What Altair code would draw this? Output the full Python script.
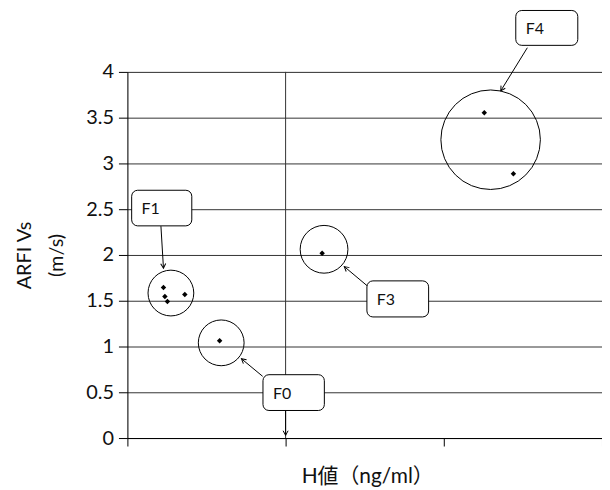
import math
import altair as alt
import pandas as pd

# ---- data ----
pt_x = [0.228, 0.237, 0.253, 0.363, 0.583, 1.231, 2.256, 2.440]
pt_y = [1.645, 1.547, 1.492, 1.568, 1.062, 2.018, 3.554, 2.888]

grp_names = ["F1", "F0", "F3", "F4"]
grp_cx = [0.275, 0.593, 1.243, 2.296]
grp_cy = [1.584, 1.040, 2.062, 3.259]
grp_diam = [46, 46, 48, 100]  # ring diameter in px

box_x1 = [0.027, 0.857, 1.514, 2.455]
box_x2 = [0.407, 1.245, 1.904, 2.847]
box_y1 = [2.707, 0.692, 1.717, 4.671]
box_y2 = [2.318, 0.301, 1.323, 4.290]

arr_x1 = [0.212, 0.855, 1.000, 1.516, 2.528]
arr_y1 = [2.315, 0.674, 0.301, 1.663, 4.264]
arr_x2 = [0.228, 0.721, 1.000, 1.371, 2.360]
arr_y2 = [1.855, 0.866, 0.030, 1.873, 3.793]

threshold_x = [1.0]

y_ticks = [0, 0.5, 1, 1.5, 2, 2.5, 3, 3.5, 4]
x_ticks = [0, 1, 2, 3]

W, H = 477, 368
XMAX, YMAX = 3, 4
FONT = "Lato, 'Noto Sans CJK JP', sans-serif"

pts = pd.DataFrame({"x": pt_x, "y": pt_y})
grp = pd.DataFrame({"name": grp_names, "cx": grp_cx, "cy": grp_cy,
                    "size": [d * d for d in grp_diam]})
boxes = pd.DataFrame({"name": grp_names, "x1": box_x1, "x2": box_x2,
                      "y1": box_y1, "y2": box_y2,
                      "ym": [(a + b) / 2 for a, b in zip(box_y1, box_y2)]})
angles = []
for a, b, c, d in zip(arr_x1, arr_y1, arr_x2, arr_y2):
    dx = (c - a) * W / XMAX
    dy = -(d - b) * H / YMAX
    angles.append(math.degrees(math.atan2(dx, -dy)) % 360)
arrows = pd.DataFrame({"x1": arr_x1, "y1": arr_y1, "x2": arr_x2, "y2": arr_y2,
                       "ang": angles})
thr = pd.DataFrame({"x": threshold_x})

xs = alt.Scale(domain=[0, XMAX], nice=False, zero=False)
ys = alt.Scale(domain=[0, YMAX], nice=False, zero=False)

x_axis = alt.Axis(values=x_ticks, labels=False, grid=False, tickSize=8,
                  domainColor="black", tickColor="black",
                  title="H値（ng/ml）", titleFont=FONT, titleFontSize=21,
                  titleFontWeight="normal", titleColor="#111", titlePadding=19,
                  titleX=241, titleAlign="center")
y_axis = alt.Axis(values=y_ticks, format="~g", grid=True, gridColor="#333",
                  gridWidth=1, tickSize=9, tickColor="black", domainColor="black",
                  labelFont=FONT, labelFontSize=20, labelColor="#111", labelPadding=5,
                  title=["ARFI Vs", "(m/s)"], titleFont=FONT, titleFontSize=20,
                  titleFontWeight="normal", titleColor="#111", titleLineHeight=32,
                  titlePadding=19)

base_pts = alt.Chart(pts).mark_point(shape="diamond", filled=True, color="black",
                                     size=30, opacity=1).encode(
    x=alt.X("x:Q", scale=xs, axis=x_axis),
    y=alt.Y("y:Q", scale=ys, axis=y_axis),
)

rule = alt.Chart(thr).mark_rule(color="#333", strokeWidth=1).encode(
    x=alt.X("x:Q", scale=xs), y=alt.value(0), y2=alt.value(H))

rings = alt.Chart(grp).mark_point(shape="circle", filled=False, color="black",
                                  strokeWidth=1, opacity=1).encode(
    x=alt.X("cx:Q", scale=xs), y=alt.Y("cy:Q", scale=ys),
    size=alt.Size("size:Q", scale=None, legend=None))

shafts = alt.Chart(arrows).mark_rule(color="black", strokeWidth=1).encode(
    x=alt.X("x1:Q", scale=xs), y=alt.Y("y1:Q", scale=ys),
    x2="x2:Q", y2="y2:Q")

heads = alt.Chart(arrows).mark_point(shape="M-0.6,1.1L0,0L0.6,1.1", filled=False,
                                     color="black", strokeWidth=1, size=70,
                                     opacity=1).encode(
    x=alt.X("x2:Q", scale=xs), y=alt.Y("y2:Q", scale=ys),
    angle=alt.Angle("ang:Q", scale=None))

rects = alt.Chart(boxes).mark_rect(fill="white", stroke="black", strokeWidth=1,
                                   cornerRadius=6).encode(
    x=alt.X("x1:Q", scale=xs), x2="x2:Q",
    y=alt.Y("y1:Q", scale=ys), y2="y2:Q")

labels = alt.Chart(boxes).mark_text(align="left", baseline="middle", dx=10, dy=1,
                                    font=FONT, fontSize=16, color="#111").encode(
    x=alt.X("x1:Q", scale=xs), y=alt.Y("ym:Q", scale=ys), text="name:N")

chart = alt.layer(base_pts, rule, rings, shafts, heads, rects, labels).properties(
    width=W, height=H,
    autosize=alt.AutoSizeParams(type="none"),
    padding={"left": 120, "top": 63, "right": 0, "bottom": 51},
).configure_view(stroke=None).configure(background="white")

chart.save("out.html", embed_options={"renderer": "svg", "actions": False})
